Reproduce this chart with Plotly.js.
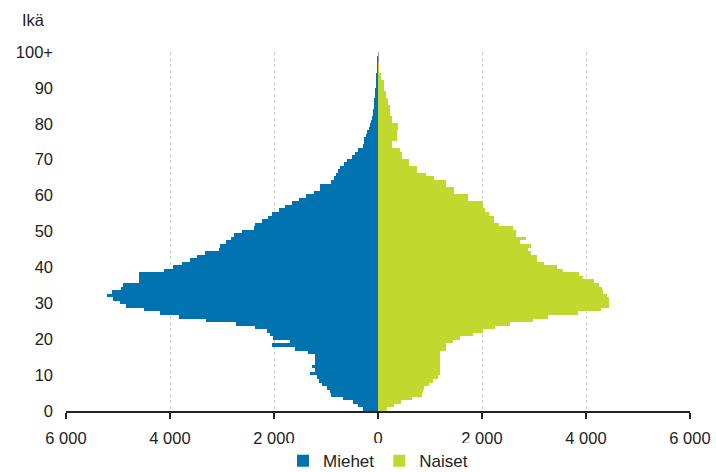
<!DOCTYPE html>
<html>
<head>
<meta charset="utf-8">
<script src="https://cdn.plot.ly/plotly-3.0.1.min.js"></script>
<style>html,body{margin:0;padding:0;background:#fff;}#chart{width:716px;height:472px;}</style>
</head>
<body>
<div id="chart"></div>
<script>
// Ages 0..100 (100 = 100+)
const ages = Array.from({length: 101}, (_, i) => i);

// Men (Miehet), index = age
const miehet = [
  290, 390, 485, 680, 895, 920, 990, 1085, 1130, 1180,      // 0-9
  1300, 1210, 1275, 1210, 1210, 1210, 1340, 1600, 2030, 1700, // 10-19
  2010, 2070, 2130, 2370, 2740, 3300, 3820, 4190, 4500, 4840, // 20-29
  4960, 5090, 5205, 5120, 4950, 4900, 4600, 4590, 4590, 4110, // 30-39
  3950, 3760, 3615, 3475, 3330, 3060, 3040, 2920, 2830, 2760, // 40-49
  2620, 2380, 2360, 2235, 2120, 2034, 1913, 1780, 1650, 1515, // 50-59
  1394, 1240, 1120, 1110, 900, 850, 804, 760, 740, 663,       // 60-69
  592, 496, 440, 390, 290, 275, 260, 235, 215, 165,           // 70-79
  160, 130, 110, 100, 90, 85, 80, 70, 60, 55,                 // 80-89
  50, 45, 40, 35, 30, 25, 20, 15, 12, 10,                     // 90-99
  8                                                           // 100+
];

// Women (Naiset), index = age
const naiset = [
  180, 300, 450, 660, 850, 860, 880, 980, 1060, 1150,         // 0-9
  1190, 1190, 1190, 1190, 1190, 1190, 1200, 1308, 1308, 1448, // 10-19
  1577, 1821, 2026, 2250, 2538, 2987, 3275, 3852, 4289, 4449, // 20-29
  4449, 4449, 4398, 4320, 4300, 4250, 4160, 3950, 3865, 3564, // 30-39
  3449, 3192, 3051, 3051, 2950, 2885, 2949, 2731, 2840, 2647, // 40-49
  2647, 2603, 2327, 2231, 2231, 2135, 2050, 2026, 2026, 1731, // 50-59
  1731, 1461, 1461, 1301, 1301, 1077, 917, 744, 744, 596,     // 60-69
  596, 468, 468, 423, 275, 275, 360, 360, 372, 390,           // 70-79
  390, 275, 275, 230, 230, 230, 192, 192, 160, 160,           // 80-89
  115, 115, 115, 64, 64, 20, 12, 10, 8, 5,                    // 90-99
  5                                                           // 100+
];

const xTickVals = [-6000, -4000, -2000, 0, 2000, 4000, 6000];
const xTickText = ['6 000', '4 000', '2 000', '0', '2 000', '4 000', '6 000'];
const yTickAges = [0, 10, 20, 30, 40, 50, 60, 70, 80, 90, 100];
const yTickText = ['0', '10', '20', '30', '40', '50', '60', '70', '80', '90', '100+'];

const blue = '#0072b0';
const green = '#c1d82f';

const traces = [
  {
    type: 'bar', orientation: 'h', name: 'Miehet',
    y: ages, x: miehet.map(v => -v),
    marker: {color: blue, line: {width: 0}},
    hoverinfo: 'skip'
  },
  {
    type: 'bar', orientation: 'h', name: 'Naiset',
    y: ages, x: naiset,
    marker: {color: green, line: {width: 0}},
    hoverinfo: 'skip'
  }
];

const fam = 'Liberation Sans, Arial, sans-serif';
const font = {family: fam, size: 16.5, color: '#222'};

const layout = {
  width: 716, height: 472,
  margin: {l: 66, r: 26, t: 52, b: 61, autoexpand: false},
  paper_bgcolor: '#fff', plot_bgcolor: '#fff',
  font: font,
  barmode: 'relative',
  bargap: 0,
  showlegend: true,
  legend: {
    orientation: 'h', x: 0.5, xanchor: 'center', y: -0.14, yanchor: 'middle',
    font: {family: fam, size: 17, color: '#222'},
    itemwidth: 30, tracegroupgap: 0
  },
  xaxis: {
    range: [-6000, 6000],
    tickvals: xTickVals, ticktext: xTickText,
    showgrid: true, gridcolor: '#cccccc', griddash: 'dot', gridwidth: 1,
    zeroline: true, zerolinecolor: '#999999', zerolinewidth: 1,
    showline: true, linecolor: '#222', linewidth: 1.5,
    ticks: 'outside', ticklen: 6, tickcolor: '#222', tickwidth: 1.5,
    ticklabelstandoff: 6,
    tickfont: {family: fam, size: 16.5, color: '#222'},
    fixedrange: true
  },
  yaxis: {
    range: [-0.5, 100.5],
    tickvals: yTickAges.map(a => a - 0.5 + a / 100),
    ticktext: yTickText,
    showgrid: false, zeroline: false, showline: false,
    ticks: '', ticklabelstandoff: 12,
    tickfont: {family: fam, size: 16.5, color: '#222'},
    fixedrange: true
  },
  annotations: [{
    text: 'Ikä', xref: 'paper', yref: 'paper',
    x: -0.03, xanchor: 'right', y: 1.089, yanchor: 'middle',
    showarrow: false, font: {family: fam, size: 16.5, color: '#222'}
  }]
};

Plotly.newPlot('chart', traces, layout, {displayModeBar: false, staticPlot: true});
</script>
</body>
</html>
